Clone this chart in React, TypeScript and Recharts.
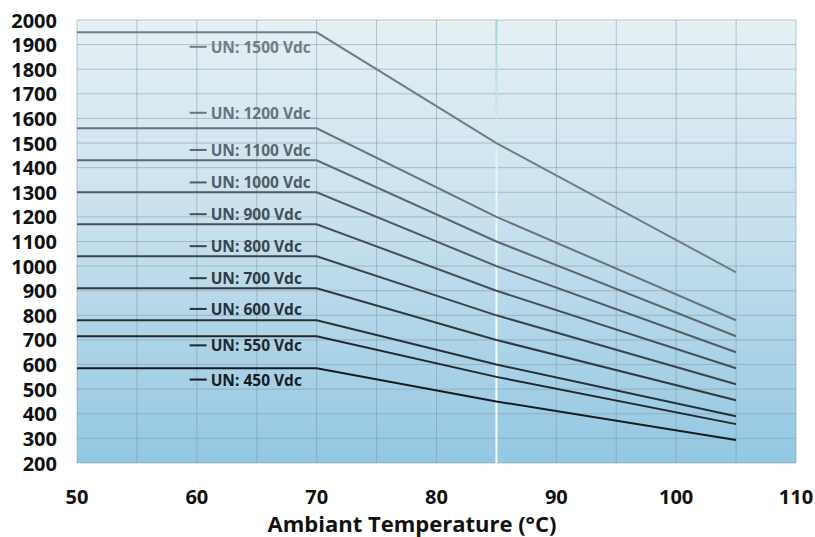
import React from 'react';
import { LineChart, Line, XAxis, YAxis, CartesianGrid, ReferenceLine, ReferenceDot } from 'recharts';

// temperatures (°C) where the derating curves change slope
const temps = [50, 70, 85, 105];

// max voltage (V) per rated voltage
const un1500 = [1950, 1950, 1500, 975];
const un1200 = [1560, 1560, 1200, 780];
const un1100 = [1430, 1430, 1100, 715];
const un1000 = [1300, 1300, 1000, 650];
const un900 = [1170, 1170, 900, 585];
const un800 = [1040, 1040, 800, 520];
const un700 = [910, 910, 700, 455];
const un600 = [780, 780, 600, 390];
const un550 = [715, 715, 550, 358];
const un450 = [585, 585, 450, 293];

const seriesNames = ['1500', '1200', '1100', '1000', '900', '800', '700', '600', '550', '450'];
const seriesValues = [un1500, un1200, un1100, un1000, un900, un800, un700, un600, un550, un450];
const seriesColors = ['#717d85', '#68737b', '#5c676f', '#505b63', '#454f57', '#3a444c', '#30393f', '#273036', '#20282e', '#161c21'];
// y position of each "UN: ... Vdc" label, in axis units
const labelY = [1891, 1623, 1472, 1340, 1211, 1081, 951, 826, 678, 539];

const xTicks = [50, 55, 60, 65, 70, 75, 80, 85, 90, 95, 100, 105, 110];
const yTicks = [200, 300, 400, 500, 600, 700, 800, 900, 1000, 1100, 1200, 1300, 1400, 1500, 1600, 1700, 1800, 1900, 2000];

const data = temps.map((t, i) => {
  const row: Record<string, number> = { t };
  seriesNames.forEach((n, k) => { row['un' + n] = seriesValues[k][i]; });
  return row;
});

const FONT = '"Open Sans", sans-serif';

const XTick = (props: any) => {
  const { x, y, payload } = props;
  if (payload.value % 10 !== 0) return null;
  return (
    <text x={x} y={y + 25} textAnchor="middle" dominantBaseline="central"
      fontFamily={FONT} fontWeight={700} fontSize={20} fill="#111">
      {payload.value}
    </text>
  );
};

const YTick = (props: any) => {
  const { x, y, payload } = props;
  return (
    <text x={x - 12} y={y} textAnchor="end" dominantBaseline="central"
      fontFamily={FONT} fontWeight={700} fontSize={20} fill="#111">
      {payload.value}
    </text>
  );
};

const XTitle = () => (
  <text x={412} y={523} textAnchor="middle" dominantBaseline="central"
    fontFamily={FONT} fontWeight={700} fontSize={22} fill="#111">
    Ambiant Temperature (°C)
  </text>
);

const makeLabel = (name: string, color: string) => (props: any) => {
  const { cx, cy } = props;
  return (
    <g>
      <line x1={cx} y1={cy} x2={cx + 17} y2={cy} stroke={color} strokeWidth={2} />
      <text x={cx + 21} y={cy} dominantBaseline="central" fontFamily={FONT}
        fontWeight={700} fontSize={15.5} fill={color}>
        {`UN: ${name} Vdc`}
      </text>
    </g>
  );
};

export default function App() {
  return (
    <div style={{ position: 'absolute', left: 0, top: 0, width: 815, height: 537, background: '#fff' }}>
      <LineChart width={815} height={537} data={data}
        margin={{ top: 20, right: 19, left: 0, bottom: 0 }}>
        <defs>
          <linearGradient id="bg" x1="0" y1="0" x2="0" y2="1">
            <stop offset="0%" stopColor="#e6f0f5" />
            <stop offset="45%" stopColor="#c8e1ee" />
            <stop offset="100%" stopColor="#93c7e2" />
          </linearGradient>
          <linearGradient id="wl" x1="0" y1="20" x2="0" y2="463" gradientUnits="userSpaceOnUse">
            <stop offset="0%" stopColor="#9fd6d4" />
            <stop offset="35%" stopColor="#e8f6f6" />
            <stop offset="100%" stopColor="#ffffff" />
          </linearGradient>
        </defs>
        <CartesianGrid fill="url(#bg)" stroke="#8294a0" strokeOpacity={0.5} />
        <XAxis dataKey="t" type="number" domain={[50, 110]} ticks={xTicks}
          axisLine={false} tickLine={false} height={74} tick={<XTick />} interval={0}
          label={<XTitle />} />
        <YAxis type="number" domain={[200, 2000]} ticks={yTicks} width={77}
          axisLine={false} tickLine={false} tick={<YTick />} interval={0} />
        <ReferenceLine x={85} stroke="url(#wl)" strokeWidth={2} />
        {seriesNames.map((n, k) => (
          <Line key={n} dataKey={'un' + n} stroke={seriesColors[k]} strokeWidth={2}
            dot={false} activeDot={false} isAnimationActive={false} />
        ))}
        {seriesNames.map((n, k) => (
          <ReferenceDot key={'l' + n} x={59.4} y={labelY[k]} r={0}
            shape={makeLabel(n, seriesColors[k])} />
        ))}
      </LineChart>
    </div>
  );
}
